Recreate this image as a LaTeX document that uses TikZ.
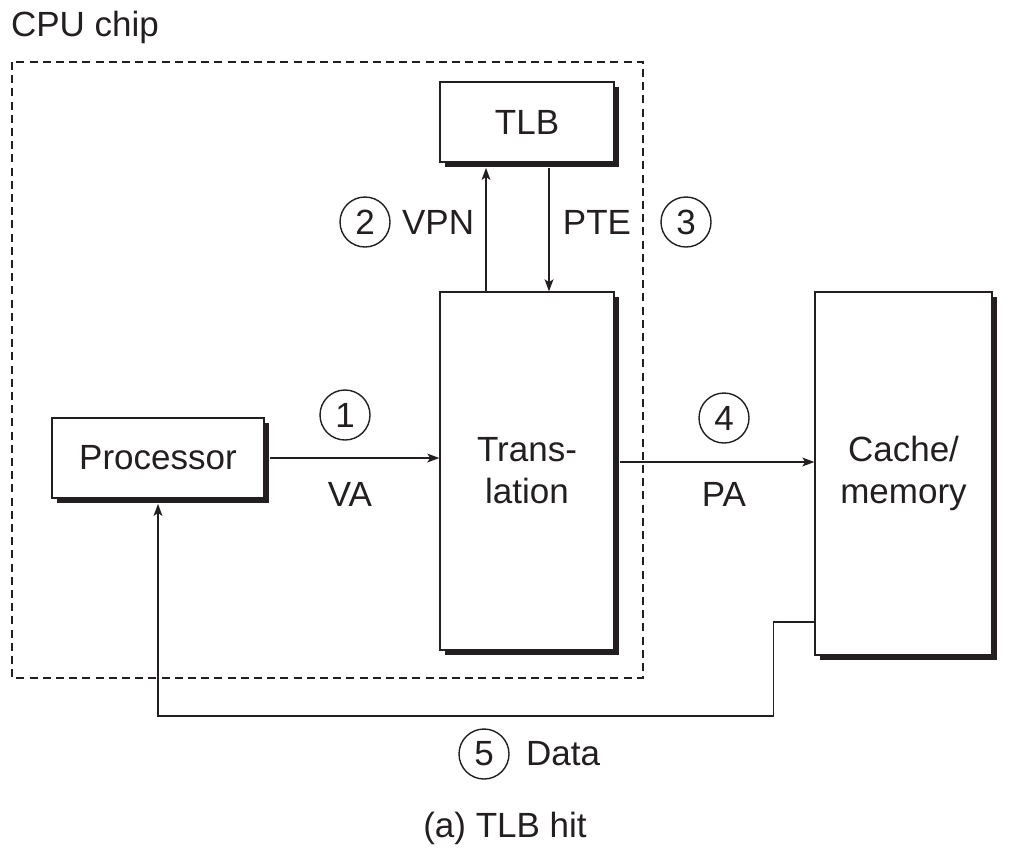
\documentclass[tikz,border=0pt]{standalone}
\usepackage{fontspec}
\setmainfont{Liberation Sans}
\usetikzlibrary{arrows.meta,shadows}
\definecolor{FigInk}{HTML}{231F20}
\tikzset{>={Stealth[length=6pt,width=4.4pt,inset=1.4pt]},
 every node/.style={font=\fontsize{17.5}{21}\selectfont,text=FigInk},
 block/.style={draw=FigInk,line width=.65pt,fill=white,align=center,
  drop shadow={shadow xshift=2.6pt,shadow yshift=-2.6pt,fill=FigInk,opacity=1}},
 stepnum/.style={circle,draw=FigInk,line width=.7pt,minimum size=25pt,inner sep=0pt},
 link/.style={draw=FigInk,line width=.8pt,->}}
\begin{document}
\begin{tikzpicture}[x=.5pt,y=-.5pt]
\useasboundingbox (0,0) rectangle (1010,859);
\node[anchor=west] (chip) at (4,27) {CPU chip};
\draw[FigInk,line width=.75pt,dash pattern=on 4pt off 2.6pt] (12,62) rectangle (643,678);
% boxes
\node[block,minimum width=87pt,minimum height=40pt] (tlb) at (527,122) {TLB};
\node[block,minimum width=87pt,minimum height=179pt] (trans) at (527,471) {Trans-\\lation};
\node[block,minimum width=106pt,minimum height=40pt] (proc) at (158,458) {Processor};
\node[block,minimum width=88.5pt,minimum height=181.5pt] (mem) at (903.5,473.5) {Cache/\\memory};
% numbered steps
\foreach \n/\x/\y in {1/345/415,2/365/222,3/686/222,4/724/418,5/484/754}
 \node[stepnum] (s\n) at (\x,\y) {\n};
\node[anchor=west] (vpn) at (395,222) {VPN};
\node (pte) at (597,222) {PTE};
\node (va) at (350,494) {VA};
\node (pa) at (724,494) {PA};
\node[anchor=west] (data) at (519,754) {Data};
\node (cap) at (505,828) {(a) TLB hit};
% connectors
\draw[link] (trans.north -| 486,0) -- ([yshift=-2.6pt]tlb.south -| 486,0);
\draw[link] ([yshift=-2.6pt]tlb.south -| 549,0) -- (trans.north -| 549,0);
\draw[link] ([xshift=2.6pt]proc.east) -- (trans.west |- proc.east);
\draw[link] ([xshift=2.6pt]trans.east |- 0,462) -- (mem.west |- 0,462);
\coordinate (dout) at (mem.west |- 0,622);
\draw[link] (dout) -- ++(-41,0) -- ++(0,94) -| ([yshift=-2.6pt]proc.south);
\end{tikzpicture}
\end{document}
